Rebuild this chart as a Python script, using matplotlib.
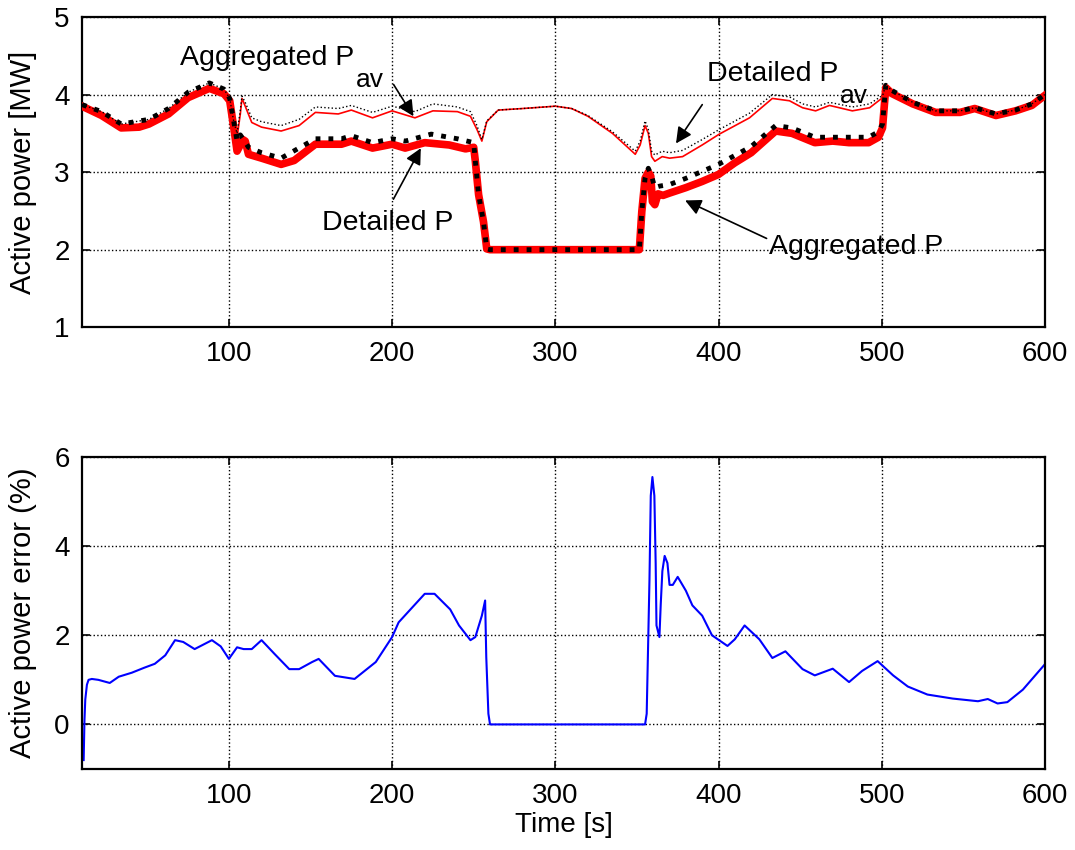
import matplotlib
matplotlib.use("Agg")
import matplotlib.pyplot as plt

plt.rcParams['font.family'] = ['Liberation Sans', 'DejaVu Sans']

# ---- top panel: active power [MW] ----
t_det_p = [10, 12, 22, 34, 45, 51, 63, 75, 88, 97,
           100.5, 103, 105, 107, 108.5, 110, 112, 120, 132, 140,
           153, 169, 175, 188, 200, 208, 220, 235, 245, 250,
           251, 253, 256, 258, 260, 350, 351.5, 353, 355, 357,
           358.5, 359.5, 361, 363, 366, 370, 380, 390, 400, 410,
           420, 435, 445, 459, 470, 480, 492, 498, 500.5, 502.5,
           506.5, 519, 533, 548, 557, 570, 582, 592, 600]
p_det = [3.85, 3.83, 3.73, 3.57, 3.58, 3.62, 3.75, 3.96, 4.08, 4.01,
         3.92, 3.57, 3.27, 3.35, 3.42, 3.40, 3.23, 3.18, 3.10, 3.15,
         3.36, 3.36, 3.40, 3.31, 3.36, 3.31, 3.38, 3.35, 3.30, 3.32,
         3.14, 2.71, 2.36, 2.01, 2.00, 2.00, 2.00, 2.49, 2.92, 3.00,
         2.95, 2.62, 2.58, 2.72, 2.70, 2.73, 2.80, 2.88, 2.97, 3.12,
         3.25, 3.53, 3.50, 3.38, 3.40, 3.38, 3.38, 3.45, 3.57, 4.09,
         4.01, 3.88, 3.77, 3.77, 3.82, 3.73, 3.79, 3.86, 3.99]

t_agg_p = [10, 22, 34, 51, 63, 75, 88, 97, 100.5, 103,
           105, 107, 109, 112, 120, 132, 153, 169, 175, 188,
           200, 208, 224, 240, 250, 251, 253, 256, 258, 260,
           350, 351.5, 353, 355, 357, 359, 361, 364, 370, 380,
           400, 420, 435, 445, 459, 470, 480, 492, 498, 500.5,
           502.5, 506.5, 519, 533, 548, 557, 570, 582, 592, 600]
p_agg = [3.87, 3.78, 3.62, 3.68, 3.82, 4.03, 4.15, 4.07, 3.95, 3.65,
         3.40, 3.48, 3.42, 3.32, 3.25, 3.18, 3.43, 3.43, 3.47, 3.38,
         3.43, 3.40, 3.49, 3.43, 3.38, 3.14, 2.71, 2.36, 2.01, 2.00,
         2.00, 2.00, 2.49, 2.92, 3.05, 2.95, 2.80, 2.82, 2.84, 2.92,
         3.10, 3.33, 3.60, 3.57, 3.45, 3.45, 3.45, 3.45, 3.52, 3.62,
         4.12, 4.05, 3.90, 3.79, 3.79, 3.83, 3.75, 3.80, 3.88, 4.00]

t_pav = [10, 22, 34, 51, 63, 75, 88, 97, 100.5, 103,
         105, 107, 108, 110, 114, 120, 132, 143, 153, 167,
         175, 188, 200, 214, 225, 240, 248, 252, 255, 258,
         265, 280, 300, 310, 320, 335, 349, 352, 355, 357,
         359, 361, 365.5, 370, 378, 390, 400.5, 419, 433, 443.5,
         451.5, 459.5, 468, 482, 492.6, 500.6, 502.5, 506.5, 519, 533,
         548, 557, 570, 582, 592, 600]
pav_det = [3.85, 3.73, 3.57, 3.62, 3.75, 3.96, 4.08, 4.01, 3.92, 3.57,
           3.45, 3.75, 3.95, 3.85, 3.64, 3.58, 3.53, 3.60, 3.77, 3.75,
           3.80, 3.70, 3.79, 3.70, 3.79, 3.78, 3.72, 3.55, 3.40, 3.65,
           3.80, 3.82, 3.85, 3.82, 3.72, 3.50, 3.23, 3.35, 3.60, 3.50,
           3.20, 3.14, 3.20, 3.18, 3.20, 3.35, 3.49, 3.70, 3.95, 3.92,
           3.83, 3.79, 3.86, 3.79, 3.83, 3.96, 4.09, 4.01, 3.88, 3.77,
           3.77, 3.82, 3.73, 3.79, 3.86, 3.99]
pav_agg = [3.87, 3.78, 3.62, 3.68, 3.82, 4.03, 4.15, 4.07, 3.95, 3.65,
           3.50, 3.80, 3.98, 3.90, 3.70, 3.65, 3.60, 3.68, 3.84, 3.82,
           3.86, 3.77, 3.85, 3.78, 3.88, 3.84, 3.78, 3.60, 3.42, 3.66,
           3.80, 3.82, 3.85, 3.82, 3.73, 3.52, 3.27, 3.40, 3.66, 3.55,
           3.27, 3.22, 3.27, 3.25, 3.28, 3.42, 3.55, 3.76, 4.00, 3.97,
           3.88, 3.84, 3.90, 3.84, 3.88, 3.99, 4.12, 4.05, 3.90, 3.79,
           3.79, 3.83, 3.75, 3.80, 3.88, 4.00]

# ---- bottom panel: active power error (%) ----
t_err = [11, 11.5, 12, 13, 14, 16, 20, 27, 32.5, 40.5,
         48, 54.6, 61, 67, 72, 79, 89.6, 95, 100, 105,
         109, 114, 120, 128, 137, 143, 151, 155, 165, 177,
         190, 200, 204, 220, 226, 235.6, 241, 248, 251, 255,
         257, 257.7, 259, 260, 355, 356, 357.7, 358.5, 359.5, 360.7,
         361.5, 362, 363.8, 364.6, 365.6, 367, 368.7, 370, 372, 375,
         380, 384, 390, 396, 405.5, 410, 416, 425, 433, 441,
         451.5, 459, 470, 480, 488, 497.5, 507, 516, 528, 543.5,
         559, 565, 571, 577, 586.5, 600]
err = [-0.80, 0.10, 0.56, 0.89, 1.00, 1.02, 1.00, 0.93, 1.07, 1.16,
       1.27, 1.36, 1.55, 1.89, 1.85, 1.69, 1.89, 1.75, 1.47, 1.73,
       1.69, 1.69, 1.89, 1.58, 1.24, 1.24, 1.40, 1.47, 1.09, 1.02,
       1.40, 1.96, 2.29, 2.93, 2.93, 2.58, 2.22, 1.89, 1.96, 2.44,
       2.78, 1.51, 0.24, 0.00, 0.00, 0.24, 3.24, 5.13, 5.55, 5.13,
       3.62, 2.22, 1.96, 2.69, 3.44, 3.78, 3.62, 3.13, 3.13, 3.31,
       3.00, 2.67, 2.44, 2.00, 1.76, 1.91, 2.22, 1.91, 1.49, 1.64,
       1.24, 1.10, 1.25, 0.95, 1.20, 1.42, 1.10, 0.85, 0.67, 0.58,
       0.52, 0.57, 0.47, 0.50, 0.78, 1.35]

xticks = [100, 200, 300, 400, 500, 600]

fig = plt.figure(figsize=(10.75, 8.5), dpi=100)
ax1 = fig.add_axes([0.0763, 0.615, 0.8957, 0.365])
ax2 = fig.add_axes([0.0763, 0.0953, 0.8957, 0.3671])


def style(ax):
    ax.grid(True, color='black', linestyle=':', linewidth=1.0)
    ax.set_axisbelow(True)
    for s in ax.spines.values():
        s.set_linewidth(1.6)
    ax.tick_params(direction='in', top=True, right=True, length=6,
                   width=1.2, labelsize=20)
    ax.tick_params(axis='x', pad=10)
    ax.tick_params(axis='y', pad=9)
    ax.set_xlim(10, 600)
    ax.set_xticks(xticks)


def label(ax, x, y, txt, sub=None):
    t = ax.text(x, y, txt, fontsize=20.5, va='baseline', zorder=6)
    if sub:
        # MATLAB-style subscript hung off the end of the main text
        ax.annotate(sub, xy=(1, 0), xycoords=t, xytext=(1, 2),
                    textcoords='offset points', fontsize=19, va='top', zorder=6)


style(ax1)
ax1.plot(t_det_p, p_det, color='red', lw=5.5, zorder=3, solid_joinstyle='round')
ax1.plot(t_agg_p, p_agg, color='black', lw=3.5, ls=':', zorder=4)
ax1.plot(t_pav, pav_det, color='red', lw=1.2, zorder=3)
ax1.plot(t_pav, pav_agg, color='black', lw=1.0, ls=':', zorder=4)
ax1.set_ylim(1, 5)
ax1.set_yticks([1, 2, 3, 4, 5])
ax1.set_ylabel('Active power [MW]', fontsize=21, labelpad=12)

arrow = dict(arrowstyle='-|>', color='black', lw=1.2, mutation_scale=24)
label(ax1, 70, 4.38, 'Aggregated P', 'av')
ax1.annotate('', xy=(214, 3.69), xytext=(200, 4.16), arrowprops=arrow, zorder=6)
label(ax1, 157, 2.26, 'Detailed P')
ax1.annotate('', xy=(218.4, 3.34), xytext=(200, 2.62), arrowprops=arrow, zorder=6)
label(ax1, 393, 4.18, 'Detailed P', 'av')
ax1.annotate('', xy=(373, 3.34), xytext=(391, 3.90), arrowprops=arrow, zorder=6)
label(ax1, 431, 1.95, 'Aggregated P')
ax1.annotate('', xy=(378, 2.65), xytext=(431, 2.13), arrowprops=arrow, zorder=6)

style(ax2)
ax2.plot(t_err, err, color='blue', lw=1.5)
ax2.set_ylim(-1, 6)
ax2.set_yticks([0, 2, 4, 6])
ax2.set_ylabel('Active power error (%)', fontsize=21, labelpad=12)
ax2.set_xlabel('Time [s]', fontsize=20, labelpad=2)

fig.savefig('out.png', dpi=100)
